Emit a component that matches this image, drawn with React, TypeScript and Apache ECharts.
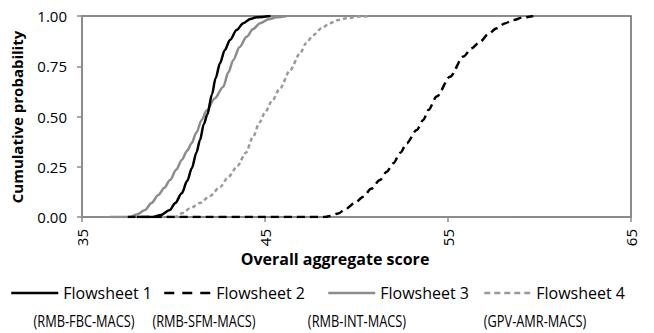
import React, { useEffect, useRef } from "react";
import * as echarts from "echarts";

const seriesNames = ["Flowsheet 1", "Flowsheet 2", "Flowsheet 3", "Flowsheet 4"];
const subLabels = ["(RMB-FBC-MACS)", "(RMB-SFM-MACS)", "(RMB-INT-MACS)", "(GPV-AMR-MACS)"];

const flowsheet1: [number, number][] = [
  [38.0, 0], [38.9, 0], [39.3, 0.01], [39.8, 0.035], [40.1, 0.07], [40.45, 0.118], [40.75, 0.18],
  [41.0, 0.242], [41.25, 0.32], [41.45, 0.383], [41.65, 0.46], [41.85, 0.51], [42.1, 0.61],
  [42.3, 0.69], [42.54, 0.765], [42.8, 0.83], [43.09, 0.881], [43.45, 0.93], [43.81, 0.964],
  [44.2, 0.985], [44.55, 0.994], [45.3, 1.0],
];
const flowsheet2: [number, number][] = [
  [37.5, 0], [48.3, 0], [48.55, 0.005], [49.0, 0.018], [49.46, 0.043], [49.9, 0.07], [50.37, 0.101],
  [50.8, 0.14], [51.28, 0.184], [51.65, 0.225], [52.01, 0.267], [52.4, 0.32], [52.74, 0.367],
  [53.29, 0.433], [53.65, 0.483], [53.93, 0.532], [54.38, 0.599], [55.11, 0.698], [55.84, 0.798],
  [56.3, 0.84], [56.75, 0.872], [57.2, 0.91], [57.66, 0.939], [58.1, 0.963], [58.57, 0.98],
  [59.1, 0.993], [59.66, 1.0],
];
const flowsheet3: [number, number][] = [
  [36.5, 0], [37.6, 0], [38.0, 0.012], [38.44, 0.035], [38.8, 0.07], [39.17, 0.109], [39.5, 0.145],
  [39.81, 0.184], [40.15, 0.235], [40.45, 0.284], [40.75, 0.33], [40.99, 0.367], [41.25, 0.42],
  [41.54, 0.483], [41.81, 0.53], [42.25, 0.59], [42.72, 0.648], [43.0, 0.72], [43.27, 0.781],
  [43.6, 0.845], [44.0, 0.897], [44.35, 0.935], [44.73, 0.964], [45.2, 0.984], [45.64, 0.994],
  [46.2, 1.0],
];
const flowsheet4: [number, number][] = [
  [38.5, 0], [40.08, 0], [40.5, 0.02], [40.9, 0.043], [41.45, 0.07], [42.0, 0.105], [42.55, 0.15],
  [43.0, 0.2], [43.5, 0.255], [43.95, 0.32], [44.35, 0.4], [44.7, 0.47], [45.0, 0.52],
  [45.4, 0.58], [45.82, 0.64], [46.37, 0.73], [46.91, 0.814], [47.25, 0.865], [47.64, 0.905],
  [48.1, 0.94], [48.55, 0.964], [49.0, 0.98], [49.46, 0.989], [50.1, 0.997], [50.74, 1.0],
];

const xTickValues = [35, 45, 55, 65];
const yTickValues = [0, 0.25, 0.5, 0.75, 1];
const xAxisTitle = "Overall aggregate score";
const yAxisTitle = "Cumulative probability";

const FONT = "'Open Sans', sans-serif";

export default function App() {
  const ref = useRef<HTMLDivElement>(null);
  useEffect(() => {
    if (!ref.current) return;
    const chart = echarts.init(ref.current, null, { renderer: "svg" });
    const styles = [
      { color: "#000000", type: "solid" as const, width: 2.5 },
      { color: "#000000", type: [8, 5] as any, width: 2.5 },
      { color: "#8c8c8c", type: "solid" as const, width: 2.5 },
      { color: "#9a9a9a", type: [4, 3] as any, width: 2.5 },
    ];
    const legendDash: any[] = ["solid", [10, 8], "solid", [6, 4]];
    const datas = [flowsheet1, flowsheet2, flowsheet3, flowsheet4];
    const legendLefts = [10, 163, 327, 483];
    const subCenters = [84, 204, 357, 535];
    chart.setOption({
      animation: false,
      grid: {
        left: 82,
        right: 23,
        top: 16,
        bottom: 116,
        show: true,
        borderColor: "#666666",
        borderWidth: 1.5,
        backgroundColor: "transparent",
      },
      xAxis: {
        type: "value",
        min: xTickValues[0],
        max: xTickValues[xTickValues.length - 1],
        interval: 10,
        axisLine: { show: true, lineStyle: { color: "#8c8c8c", width: 1.5 } },
        axisTick: { show: true, length: 5, lineStyle: { color: "#8c8c8c", width: 1.5 } },
        splitLine: { show: false },
        axisLabel: {
          rotate: 90,
          margin: 12,
          fontFamily: FONT,
          fontSize: 15,
          color: "#000",
          formatter: (v: number) => String(v),
        },
      },
      yAxis: {
        type: "value",
        min: yTickValues[0],
        max: yTickValues[yTickValues.length - 1],
        interval: 0.25,
        axisLine: { show: true, lineStyle: { color: "#8c8c8c", width: 1.5 } },
        axisTick: { show: true, length: 5, lineStyle: { color: "#8c8c8c", width: 1.5 } },
        splitLine: { show: false },
        axisLabel: {
          margin: 15,
          fontFamily: FONT,
          fontSize: 15,
          color: "#000",
          formatter: (v: number) => v.toFixed(2),
        },
      },
      legend: seriesNames.map((n, i) => ({
        data: [n],
        left: legendLefts[i],
        top: 285,
        itemWidth: 47,
        itemHeight: 14,
        padding: 0,
        selectedMode: false,
        itemStyle: { opacity: 0 },
        lineStyle: { type: legendDash[i], width: 2.5 },
        textStyle: { fontFamily: FONT, fontSize: 16, color: "#000" },
      })),
      graphic: [
        {
          type: "text",
          x: 335,
          y: 259,
          style: {
            text: xAxisTitle,
            fontFamily: FONT,
            fontSize: 16,
            fontWeight: "bold",
            fill: "#000",
            textAlign: "center",
            textVerticalAlign: "middle",
          },
        },
        {
          type: "text",
          x: 17,
          y: 117,
          rotation: Math.PI / 2,
          style: {
            text: yAxisTitle,
            fontFamily: FONT,
            fontSize: 15,
            fontWeight: "bold",
            fill: "#000",
            textAlign: "center",
            textVerticalAlign: "middle",
          },
        },
        ...subLabels.map((t, i) => ({
          type: "text",
          x: subCenters[i],
          y: 321,
          scaleX: 0.8,
          style: {
            text: t,
            fontFamily: FONT,
            fontSize: 16,
            fill: "#000",
            textAlign: "center",
            textVerticalAlign: "middle",
          },
        })),
      ],
      series: seriesNames.map((n, i) => ({
        name: n,
        type: "line",
        data: datas[i],
        showSymbol: false,
        symbol: "none",
        smooth: 0.3,
        smoothMonotone: "x",
        lineStyle: styles[i],
        itemStyle: { color: styles[i].color },
        z: 4 - i,
      })),
    });
    return () => chart.dispose();
  }, []);
  return <div ref={ref} style={{ width: 654, height: 333, position: "absolute", left: 0, top: 0 }} />;
}
